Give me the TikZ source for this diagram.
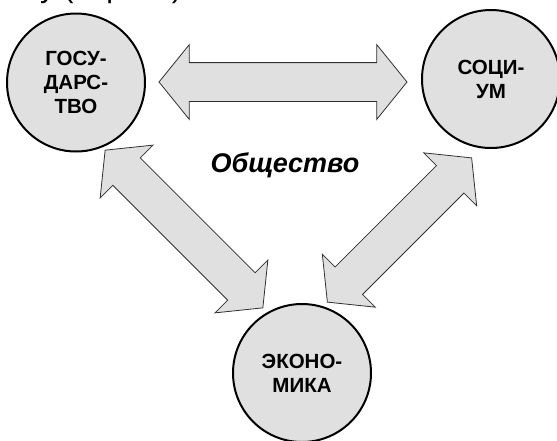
\documentclass[tikz,border=0pt]{standalone}
\usepackage{fontspec}
\setmainfont{Liberation Sans}
\usetikzlibrary{shapes.arrows}
\definecolor{discgray}{HTML}{E0E0E0}
\definecolor{rimgray}{HTML}{303030}

\begin{document}
\begin{tikzpicture}[x=1pt, y=-1pt]

   \tikzstyle{sphere}=[circle, draw=black, line width=2pt, fill=discgray, minimum size=138pt, inner sep=0pt, align=center, font=\bfseries\fontsize{20.5}{24}\selectfont]
   \tikzstyle{link}=[double arrow, draw=rimgray, line width=0.8pt, fill=discgray, inner xsep=0pt, inner ysep=19pt, double arrow head extend=18pt, double arrow tip angle=102]

   \useasboundingbox (0,0) rectangle (557,440);
   \clip (0,0) rectangle (557,440);

   \node[anchor=base west, inner sep=0pt, font=\fontsize{30}{30}\selectfont] (cap) at (40,-2.3) {у (апрель)};

   % links
   \node[link, minimum height=248pt] (l1) at (283,82) {};
   \node[link, minimum height=223pt, rotate=-45] (l2) at (184,229) {};
   \node[link, minimum height=204pt, rotate=45] (l3) at (399.5,230) {};

   \node[sphere] (gos) at (76,82.5) {ГОСУ-\\ДАРС-\\ТВО};
   \node[sphere] (soc) at (491,79) {СОЦИ-\\УМ};
   \node[sphere] (eco) at (302,373) {ЭКОНО-\\МИКА};

   \node[font=\bfseries\itshape\fontsize{27}{27}\selectfont] (soc1) at (285,165) {Общество};

\end{tikzpicture}
\end{document}
